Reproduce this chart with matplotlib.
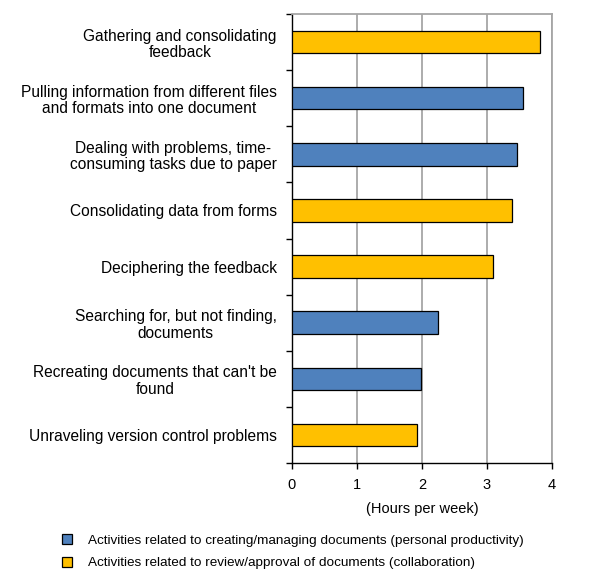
import numpy as np
import matplotlib.pyplot as plt
from matplotlib.patches import Patch

plt.rcParams['font.family'] = ['Liberation Sans', 'DejaVu Sans']

activities = [
    "Gathering and consolidating\nfeedback",
    "Pulling information from different files\nand formats into one document",
    "Dealing with problems, time-\nconsuming tasks due to paper",
    "Consolidating data from forms",
    "Deciphering the feedback",
    "Searching for, but not finding,\ndocuments",
    "Recreating documents that can't be\nfound",
    "Unraveling version control problems",
]
hours = [3.81, 3.55, 3.46, 3.38, 3.09, 2.25, 1.99, 1.93]
# 0 = personal productivity, 1 = collaboration
group = [1, 0, 0, 1, 1, 0, 0, 1]
group_names = [
    "Activities related to creating/managing documents (personal productivity)",
    "Activities related to review/approval of documents (collaboration)",
]
group_colors = ["#4F81BD", "#FFC000"]
x_ticks = [0, 1, 2, 3, 4]

fig = plt.figure(figsize=(6.06, 5.84), dpi=100)
ax = fig.add_axes([292 / 606, 1 - 463 / 584, 260 / 606, 449 / 584])

y = np.arange(len(activities))
colors = [group_colors[g] for g in group]
ax.barh(y, hours, height=0.4, color=colors, edgecolor="black", linewidth=0.9, zorder=3)

ax.set_xlim(0, 4)
ax.set_ylim(len(activities) - 0.5, -0.5)
ax.set_xticks(x_ticks)
ax.set_xticklabels([str(t) for t in x_ticks], fontsize=10.5)
ax.xaxis.grid(True, color="#A6A6A6", linewidth=1.3, zorder=0)

ax.set_yticks(y)
ax.set_yticklabels(activities, fontsize=11.2)
for lbl in ax.get_yticklabels():
    lbl.set_multialignment("center")
    lbl.set_linespacing(1.12)
ax.tick_params(axis="y", which="major", length=0, pad=11)
ax.set_yticks(np.arange(-0.5, len(activities), 1), minor=True)
ax.tick_params(axis="y", which="minor", length=4, width=1, color="black")
ax.tick_params(axis="x", length=4, width=1, pad=7)

for side in ["left", "bottom"]:
    ax.spines[side].set_color("black")
    ax.spines[side].set_linewidth(1)
ax.spines["top"].set_color("#A6A6A6")
ax.spines["right"].set_color("#A6A6A6")
ax.spines["top"].set_linewidth(1.3)
ax.spines["right"].set_linewidth(1.3)

ax.set_xlabel("(Hours per week)", fontsize=10.5, labelpad=7)

handles = [Patch(facecolor=c, edgecolor="black", linewidth=0.9) for c in group_colors]
fig.legend(handles, group_names, loc="upper left", bbox_to_anchor=(50 / 606, 1 - 522 / 584),
           frameon=False, fontsize=9.7, handlelength=0.75, handleheight=0.75,
           handletextpad=1.2, labelspacing=0.75)

fig.savefig("out.png", dpi=100, facecolor="white")
